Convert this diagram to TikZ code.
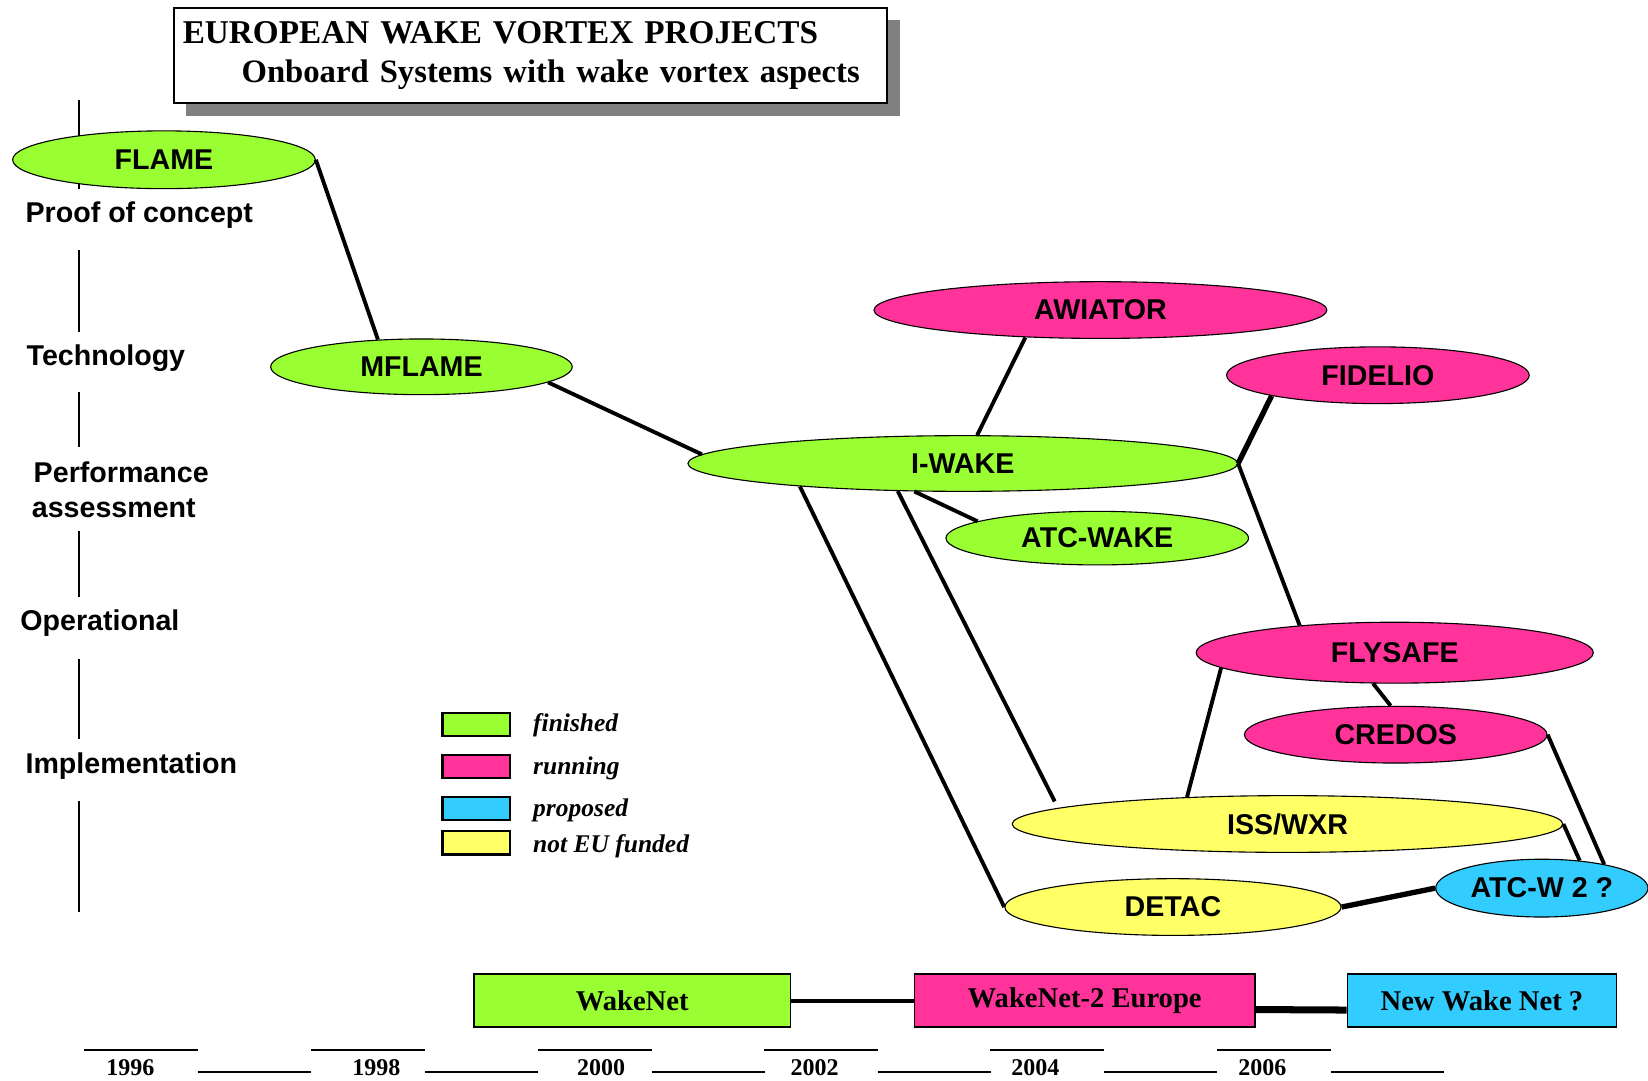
\documentclass[tikz,border=0pt]{standalone}
\usepackage{fontspec}
\setmainfont{Liberation Serif}
\setsansfont{Liberation Sans}
\definecolor{donegreen}{RGB}{153, 255, 51}
\definecolor{runpink}{RGB}{255, 51, 153}
\definecolor{propcyan}{RGB}{51, 204, 255}
\definecolor{fundyellow}{RGB}{255, 255, 102}
\definecolor{shadowgray}{RGB}{128, 128, 128}
\usetikzlibrary{shapes.geometric, calc}

\begin{document}
\begin{tikzpicture}[x=0.02cm, y=-0.02cm,
  proj/.style={ellipse, draw, line width=0.6pt, inner sep=0pt,
               font=\sffamily\bfseries\fontsize{15.5}{18}\selectfont},
  net/.style={draw, line width=0.9pt, inner sep=0pt, minimum height=1cm,
              font=\bfseries\fontsize{15.5}{18}\selectfont},
  link/.style={line width=2.1pt},
  stage/.style={anchor=west, align=left, inner sep=0pt,
                font=\sffamily\bfseries\fontsize{15.5}{18.8}\selectfont},
  keybox/.style={draw, line width=1.1pt, minimum width=1.28cm, minimum height=0.44cm, inner sep=0pt},
  keytext/.style={anchor=west, inner sep=0pt, font=\bfseries\itshape\fontsize{13.8}{16}\selectfont},
]
\useasboundingbox (0,0) rectangle (1568,1028);

% Title with shadow
\fill[shadowgray] (177,19) rectangle (856,110);
\node[draw, line width=1pt, fill=white, anchor=north west, minimum width=13.56cm,
      minimum height=1.8cm, inner xsep=0.16cm, text width=13.24cm, align=left,
      font=\bfseries\fontsize{18}{21.6}\selectfont] (title) at (165,7)
     {EUROPEAN WAKE VORTEX PROJECTS\\\hspace*{1.12cm}{\fontsize{17.7}{21.6}\selectfont Onboard Systems with wake vortex aspects}};

% Stage axis on the left
\foreach \ya/\yb in {95/180, 238/316, 373/425, 505/568, 627/703, 762/868}
  \draw[line width=0.9pt] (75,\ya) -- (75,\yb);
\node[stage] (poc)  at (24,205) {Proof of concept};
\node[stage] (tech) at (25,341) {Technology};
\node[stage] (perf) at (30,466) {\hspace*{1pt}Performance\\assessment};
\node[stage] (oper) at (19,593) {Operational};
\node[stage] (impl) at (24,729) {Implementation};

% Projects
\node[proj, fill=donegreen, minimum width=5.76cm, minimum height=1.1cm]   (flame)   at (156,152)  {FLAME};
\node[proj, fill=donegreen, minimum width=5.74cm, minimum height=1.06cm]  (mflame)  at (401,349)  {MFLAME};
\node[proj, fill=runpink, minimum width=8.62cm, minimum height=1.08cm]    (awiator) at (1047,295) {AWIATOR};
\node[proj, fill=runpink, minimum width=5.76cm, minimum height=1.08cm]    (fidelio) at (1311,357) {FIDELIO};
\node[proj, fill=donegreen, minimum width=10.46cm, minimum height=1.06cm] (iwake)   at (916,441)  {I-WAKE};
\node[proj, fill=donegreen, minimum width=5.76cm, minimum height=1.02cm]  (atcwake) at (1044,512) {ATC-WAKE};
\node[proj, fill=runpink, minimum width=7.56cm, minimum height=1.16cm]    (flysafe) at (1327,621) {FLYSAFE};
\node[proj, fill=runpink, minimum width=5.76cm, minimum height=1.08cm]    (credos)  at (1328,699) {CREDOS};
\node[proj, fill=fundyellow, minimum width=10.48cm, minimum height=1.08cm] (isswxr) at (1225,784) {ISS/WXR};
\node[proj, fill=fundyellow, minimum width=6.4cm, minimum height=1.08cm]  (detac)   at (1116,863) {DETAC};
\node[proj, fill=propcyan, minimum width=4.04cm, minimum height=1.1cm]    (atcw)    at (1467,845) {ATC-W 2 ?};

% Links between projects
\draw[link] (flame.east) -- (mflame.148);
\draw[link] (mflame.-7) -- (iwake.178);
\draw[link] (awiator.200) -- (iwake.63);
\draw[line width=2.9pt] (fidelio.191) -- (iwake.east);
\draw[link] (iwake.east) -- (flysafe.164);
\draw[link] (iwake.210) -- (atcwake.172);
\draw[link] (iwake.188.8) -- (detac.west);
\draw[link, shorten >=1.4mm] (iwake.203) -- (isswxr.176);
\draw[link] (flysafe.185) -- (isswxr.165);
\draw[link] (flysafe.235) -- (credos.100);
\draw[link] (credos.east) -- (atcw.21);
\draw[link] (isswxr.east) -- (atcw.36);
\draw[line width=2.9pt] (detac.east) -- (atcw.west);

% Legend
\node[keybox, fill=donegreen]  (kdone) at (453,689) {};
\node[keybox, fill=runpink]    (krun)  at (453,729) {};
\node[keybox, fill=propcyan]   (kprop) at (453,769) {};
\node[keybox, fill=fundyellow] (kfund) at (453,802) {};
\node[keytext] at (507,690) {finished};
\node[keytext] at (507,731) {running};
\node[keytext] at (507,771) {proposed};
\node[keytext] at (507,805) {not EU funded};

% Networks
\node[net, fill=donegreen, minimum width=6.02cm] (wakenet)  at (601.5,952) {WakeNet};
\node[net, fill=runpink, minimum width=6.48cm]   (wakenet2) at (1032,952)  {WakeNet-2 Europe};
\node[net, fill=propcyan, minimum width=5.12cm]  (newnet)   at (1410,952)  {New Wake Net ?};
\draw[line width=2.2pt] (wakenet.east) -- (wakenet2.west);
\draw[line width=3.8pt] (wakenet2.-3) -- (newnet.184);

% Years
\foreach \yr/\xa/\xt in {1996/80/124, 1998/296/358, 2000/512/572, 2002/727/775, 2004/942/985, 2006/1158/1201}{
  \draw[line width=0.9pt] (\xa,999) -- ++(108,0);
  \draw[line width=0.9pt] (\xa+108,1020) -- ++(108,0);
  \node[font=\bfseries\fontsize{13}{15}\selectfont, inner sep=0pt] (y\yr) at (\xt,1016) {\yr};
}
\end{tikzpicture}
\end{document}
